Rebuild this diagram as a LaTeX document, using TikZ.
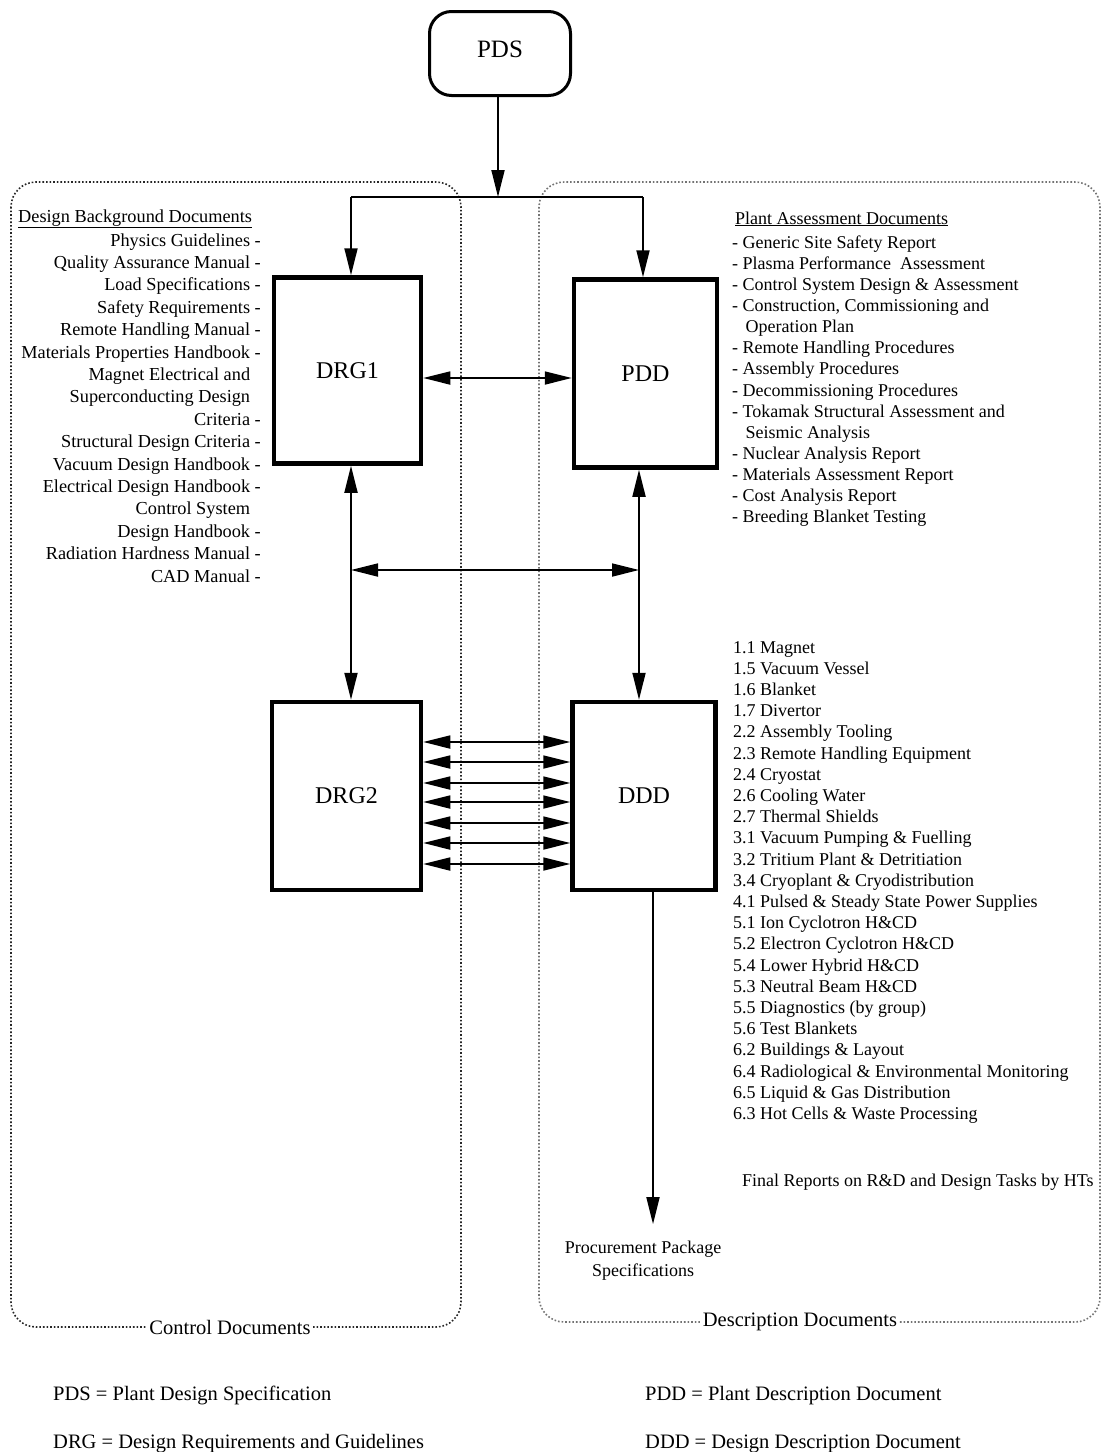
\documentclass[tikz,border=0pt]{standalone}
\usepackage{fontspec}
\setmainfont{Liberation Serif}
\usetikzlibrary{arrows.meta}
\begin{document}
\begin{tikzpicture}[x=1pt,y=-1pt,
  box/.style={draw, line width=4.5pt, inner sep=0pt, font=\fontsize{24}{28}\selectfont},
  conn/.style={line width=1.8pt},
  arr/.style={conn, -{Triangle[length=27pt,width=13pt]}},
  darr/.style={conn, {Triangle[length=27pt,width=13pt]}-{Triangle[length=27pt,width=13pt]}},
  txt/.style={inner sep=0pt, font=\fontsize{18}{22}\selectfont},
  ltxt/.style={inner sep=0pt, font=\fontsize{18.3}{22}\selectfont},
  flabel/.style={inner sep=0pt, fill=white, inner xsep=2pt, inner ysep=3pt, font=\fontsize{20.5}{24}\selectfont},
  legend/.style={inner sep=0pt, font=\fontsize{20.5}{24}\selectfont},
  frame/.style={dotted, line width=1.6pt, rounded corners=25pt}]
\useasboundingbox (0,0) rectangle (1104,1452);

% dotted frames
\draw[frame, black!85] (11,182) rectangle (461,1327);
\draw[frame, black!55] (539,182) rectangle (1100,1322);
\node[flabel] (ctl) at (230,1327) {Control Documents};
\node[flabel] (desc) at (800,1322) {Description Documents};

% boxes
\node[draw, line width=3pt, rounded corners=22pt, minimum width=141pt, minimum height=84pt,
      inner sep=0pt, font=\fontsize{25}{29}\selectfont] (PDS) at (500,53.5) {\raisebox{8pt}{PDS}};
\node[box, minimum width=147pt, minimum height=186pt] (DRG1) at (347.5,370.5) {DRG1};
\node[box, minimum width=143pt, minimum height=188pt] (PDD) at (645.5,373.5) {PDD};
\node[box, minimum width=149pt, minimum height=188pt] (DRG2) at (346.5,796) {DRG2};
\node[box, minimum width=143pt, minimum height=188pt] (DDD) at (644,796) {DDD};

% connectors
\coordinate (split) at (498,197);
\coordinate (splitL) at (351,197);
\coordinate (splitR) at (643,197);
\draw[arr] (PDS.south -| split) -- (split);
\draw[conn] (splitL) -- (splitR);
\draw[arr] (splitL) -- (splitL |- DRG1.north);
\draw[arr] (splitR) -- (splitR |- PDD.north);

\coordinate (yA) at (0,378);
\draw[darr] (DRG1.east |- yA) -- (PDD.west |- yA);

\coordinate (xL) at (351,0);
\coordinate (xR) at (639,0);
\draw[darr] (DRG1.south -| xL) -- (DRG2.north -| xL);
\draw[darr] (PDD.south -| xR) -- (DDD.north -| xR);
\coordinate (hL) at (351,570);
\coordinate (hR) at (639,570);
\draw[darr] (hL) -- (hR);

\foreach \yy in {742,762,783,802,823,843,864}{
  \draw[darr] (DRG2.east |- 0,\yy) -- (DDD.west |- 0,\yy);
}

\node[txt, align=center] (proc) at (643,1261) {Procurement Package\\[1pt]Specifications};
\coordinate (pp) at (653,0);
\draw[arr, shorten >=17pt] (DDD.south -| pp) -- (proc.north -| pp);

% left list
\node[ltxt, anchor=base west] (dbh) at (18,222) {\underline{Design Background Documents}};
\foreach \t [count=\i] in {
  Physics Guidelines -,
  Quality Assurance Manual -,
  Load Specifications -,
  Safety Requirements -,
  Remote Handling Manual -,
  Materials Properties Handbook -,
  Magnet Electrical and\ \hphantom{-},
  Superconducting Design\ \hphantom{-},
  Criteria -,
  Structural Design Criteria -,
  Vacuum Design Handbook -,
  Electrical Design Handbook -,
  Control System\ \hphantom{-},
  Design Handbook -,
  Radiation Hardness Manual -,
  CAD Manual -}{
  \node[ltxt, anchor=base east] (L\i) at (261,{246+22.4*(\i-1)}) {\t};
}

% right list
\node[txt, anchor=base west] (pah) at (735,224) {\underline{Plant Assessment Documents}};
\foreach \t [count=\i] in {
  - Generic Site Safety Report,
  - Plasma Performance\ \ Assessment,
  - Control System Design \& Assessment,
  {- Construction, Commissioning and},
  \hphantom{-}\ \,Operation Plan,
  - Remote Handling Procedures,
  - Assembly Procedures,
  - Decommissioning Procedures,
  - Tokamak Structural Assessment and,
  \hphantom{-}\ \,Seismic Analysis,
  - Nuclear Analysis Report,
  - Materials Assessment Report,
  - Cost Analysis Report,
  - Breeding Blanket Testing}{
  \node[txt, anchor=base west] (R\i) at (732,{248+21.15*(\i-1)}) {\t};
}

% DDD list
\foreach \t [count=\i] in {
  1.1 Magnet,
  1.5 Vacuum Vessel,
  1.6 Blanket,
  1.7 Divertor,
  2.2 Assembly Tooling,
  2.3 Remote Handling Equipment,
  2.4 Cryostat,
  2.6 Cooling Water,
  2.7 Thermal Shields,
  3.1 Vacuum Pumping \& Fuelling,
  3.2 Tritium Plant \& Detritiation,
  3.4 Cryoplant \& Cryodistribution,
  4.1 Pulsed \& Steady State Power Supplies,
  5.1 Ion Cyclotron H\&CD,
  5.2 Electron Cyclotron H\&CD,
  5.4 Lower Hybrid H\&CD,
  5.3 Neutral Beam H\&CD,
  5.5 Diagnostics (by group),
  5.6 Test Blankets,
  6.2 Buildings \& Layout,
  6.4 Radiological \& Environmental Monitoring,
  6.5 Liquid \& Gas Distribution,
  6.3 Hot Cells \& Waste Processing}{
  \node[txt, anchor=base west] (D\i) at (733,{653+21.2*(\i-1)}) {\t};
}

\node[txt, anchor=base west] (final) at (742,1186) {Final Reports on R\&D and Design Tasks by HTs};

% legend
\node[legend, anchor=base west] (lg1) at (53,1400) {PDS = Plant Design Specification};
\node[legend, anchor=base west] (lg2) at (53,1448) {DRG = Design Requirements and Guidelines};
\node[legend, anchor=base west] (lg3) at (645,1400) {PDD = Plant Description Document};
\node[legend, anchor=base west] (lg4) at (645,1448) {DDD = Design Description Document};
\end{tikzpicture}
\end{document}
